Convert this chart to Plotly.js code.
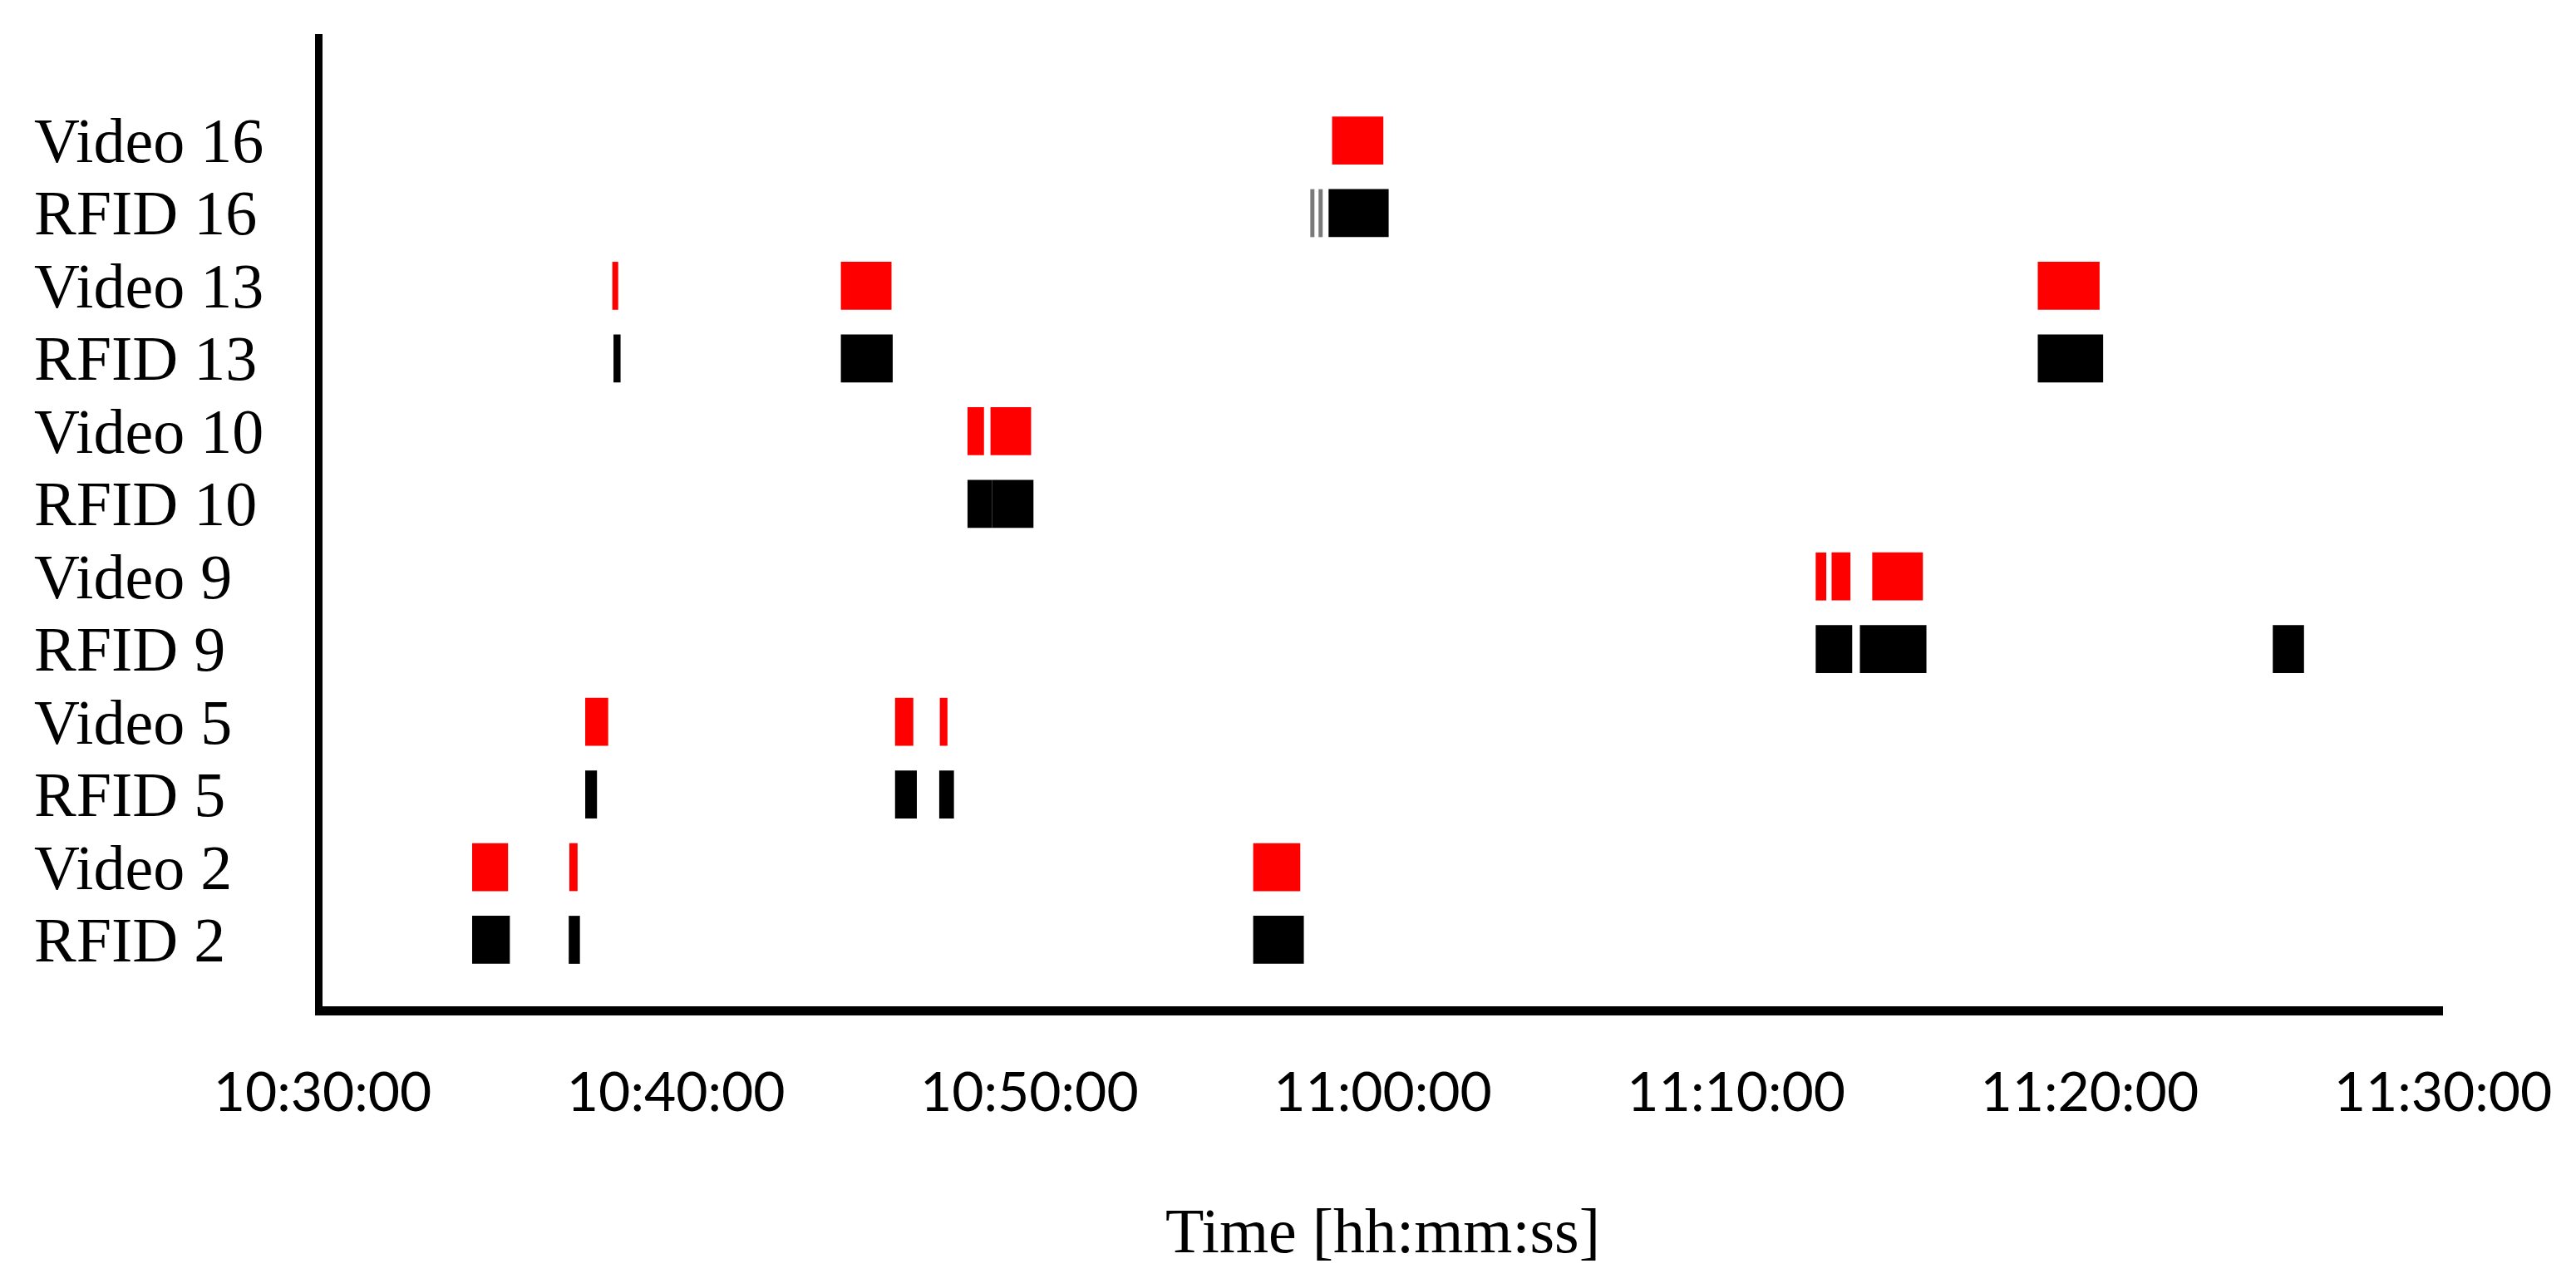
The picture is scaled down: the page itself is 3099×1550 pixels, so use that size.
<!DOCTYPE html>
<html>
<head>
<meta charset="utf-8">
<script src="https://cdn.plot.ly/plotly-3.0.1.min.js"></script>
<style>html,body{margin:0;padding:0;background:#fff;}#chart{width:3099px;height:1550px;}</style>
</head>
<body>
<div id="chart"></div>
<script>
// Rows, bottom to top
const rows = ['RFID 2','Video 2','RFID 5','Video 5','RFID 9','Video 9','RFID 10','Video 10','RFID 13','Video 13','RFID 16','Video 16'];

// Video detections (red)
const videoRow   = ['Video 2','Video 2','Video 2','Video 5','Video 5','Video 5','Video 9','Video 9','Video 9','Video 10','Video 10','Video 13','Video 13','Video 13','Video 16'];
const videoStart = ['10:34:14','10:36:59','10:56:20','10:37:26','10:46:12','10:47:28','11:12:15','11:12:42','11:13:51','10:48:15','10:48:54','10:38:12','10:44:40','11:18:32','10:58:34'];
const videoEnd   = ['10:35:15','10:37:13','10:57:40','10:38:05','10:46:43','10:47:41','11:12:33','11:13:14','11:15:17','10:48:43','10:50:03','10:38:22','10:46:06','11:20:17','11:00:01'];

// RFID detections (black)
const rfidRow   = ['RFID 2','RFID 2','RFID 2','RFID 5','RFID 5','RFID 5','RFID 9','RFID 9','RFID 9','RFID 10','RFID 10','RFID 13','RFID 13','RFID 13','RFID 16'];
const rfidStart = ['10:34:14','10:36:58','10:56:20','10:37:26','10:46:12','10:47:27','11:12:15','11:13:30','11:25:11','10:48:15','10:48:57','10:38:14','10:44:40','11:18:32','10:58:28'];
const rfidEnd   = ['10:35:18','10:37:17','10:57:46','10:37:46','10:46:49','10:47:52','11:13:17','11:15:23','11:26:04','10:48:57','10:50:07','10:38:26','10:46:08','11:20:23','11:00:10'];

// Very short RFID reads (thin grey lines)
const rfidShortRow   = ['RFID 16','RFID 16'];
const rfidShortStart = ['10:57:57','10:58:11'];
const rfidShortEnd   = ['10:58:04','10:58:18'];

// X axis ticks
const tickTimes = ['10:30:00','10:40:00','10:50:00','11:00:00','11:10:00','11:20:00','11:30:00'];
const rangeStart = '10:30:00';
const rangeEnd = '11:30:00';

const day = '2000-01-01 ';
function ms(t){ const p = t.split(':').map(Number); return ((p[0]*60+p[1])*60+p[2])*1000; }
function mkTrace(name, r, s, e, color){
  return {
    type:'bar', orientation:'h', name:name,
    y:r, base:s.map(t=>day+t), x:s.map((t,i)=>ms(e[i])-ms(t)),
    width:0.66, marker:{color:color, line:{width:0}}, showlegend:false,
    hoverinfo:'skip'
  };
}

const traces = [
  mkTrace('Video', videoRow, videoStart, videoEnd, '#ff0000'),
  mkTrace('RFID', rfidRow, rfidStart, rfidEnd, '#000000'),
  mkTrace('RFID short', rfidShortRow, rfidShortStart, rfidShortEnd, '#7a7a7a')
];

const annotations = rows.map(r => ({
  text:r, xref:'paper', yref:'y', x:-0.137, y:r, xanchor:'left', yanchor:'middle',
  showarrow:false, font:{family:'Liberation Serif, Times New Roman, serif', size:76, color:'#000'}
}));

const layout = {
  width:3099, height:1550,
  paper_bgcolor:'#fff', plot_bgcolor:'#fff',
  margin:{l:388, r:160, t:41, b:339},
  barmode:'overlay',
  xaxis:{
    type:'date', range:[day+rangeStart, day+rangeEnd],
    tickvals:tickTimes.map(t=>day+t), ticktext:tickTimes,
    showgrid:false, zeroline:false, showline:true, linecolor:'#000', linewidth:11,
    ticks:'', ticklabelstandoff:36,
    tickfont:{family:'Lato, Open Sans, sans-serif', size:66, color:'#000'},
    title:{text:'Time [hh:mm:ss]', standoff:108, font:{family:'Liberation Serif, Times New Roman, serif', size:76, color:'#000'}}
  },
  yaxis:{
    type:'category', categoryorder:'array', categoryarray:rows,
    range:[-0.915, 12.464],
    showgrid:false, zeroline:false, showline:true, linecolor:'#000', linewidth:9,
    ticks:'', showticklabels:false
  },
  annotations:annotations
};

Plotly.newPlot('chart', traces, layout, {staticPlot:true, displayModeBar:false});
</script>
</body>
</html>
